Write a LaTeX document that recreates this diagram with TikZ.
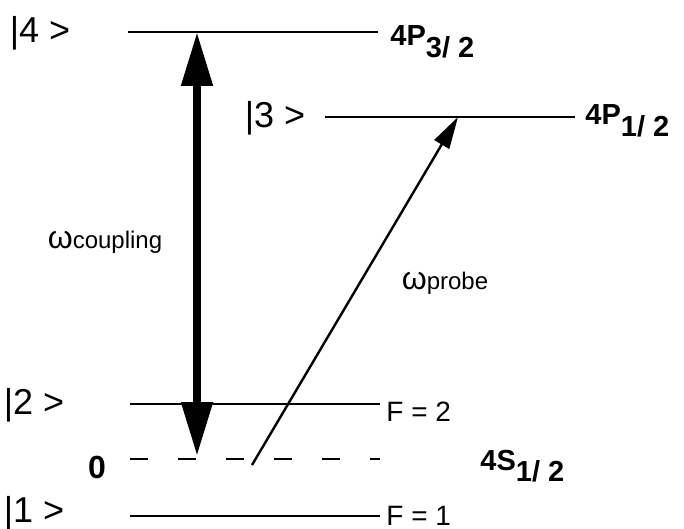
\documentclass[tikz,border=0pt]{standalone}
\usepackage{fontspec}
\setmainfont{Liberation Sans}
\usetikzlibrary{arrows.meta}
\tikzset{
  niveau/.style={line width=1pt},
  ket/.style={font=\fontsize{18}{18}\selectfont},
  etat/.style={font=\fontsize{14.5}{14.5}\selectfont\bfseries, anchor=west, inner sep=0pt},
  hyper/.style={font=\fontsize{14}{14}\selectfont, anchor=west, inner sep=0pt},
}
\newcommand{\indice}[1]{\raisebox{-0.4em}{#1}}
\begin{document}
\begin{tikzpicture}[x=0.5pt,y=-0.5pt]

\useasboundingbox (0,0) rectangle (684,529);

% Niveau 4
\draw[niveau]
(128,32)
--
(378,32);

% Niveau 3
\draw[niveau]
(325,117)
--
(575,117);

% Niveau 2
\draw[niveau]
(130,404)
--
(380,404);

% Niveau 1
\draw[niveau]
(130,516)
--
(380,516);

% Origine
\draw[line width=1pt, dash pattern=on 9pt off 15pt]
(130,459)
--
(380,459);

% Couplage
\coordinate (haut) at (197,32);
\coordinate (bas) at (197,456);
\draw[line width=4pt,
{Triangle[length=27pt,width=15pt]}-{Triangle[length=27pt,width=15pt]}]
(bas)
--
(haut);

% Sonde
\coordinate (depart) at (252,465);
\coordinate (arrivee) at (458,117);
\draw[line width=1.2pt, -{Triangle[length=16pt,width=8.5pt]}]
(depart)
--
(arrivee);

\node[ket] (k4) at (40,33)
{|4 >};

\node[ket] (k3) at (275,118)
{|3 >};

\node[ket] (k2) at (34,405)
{|2 >};

\node[ket] (k1) at (34,513)
{|1 >};

\node[etat] (p32) at (390,42)
{4P\indice{3/ 2}};

\node[etat] (p12) at (585,121)
{4P\indice{1/ 2}};

\node[etat] (s12) at (480,466)
{4S\indice{1/ 2}};

\node[hyper] (f2) at (386,412)
{F = 2};

\node[hyper] (f1) at (386,516)
{F = 1};

\node[font=\fontsize{16}{16}\selectfont\bfseries] (zero) at (97,467)
{0};

\node[font=\fontsize{16}{16}\selectfont] (wc) at (105,242)
{ω\fontsize{12}{12}\selectfont coupling};

\node[font=\fontsize{16}{16}\selectfont] (wp) at (445,283)
{ω\fontsize{12}{12}\selectfont probe};

\end{tikzpicture}
\end{document}
